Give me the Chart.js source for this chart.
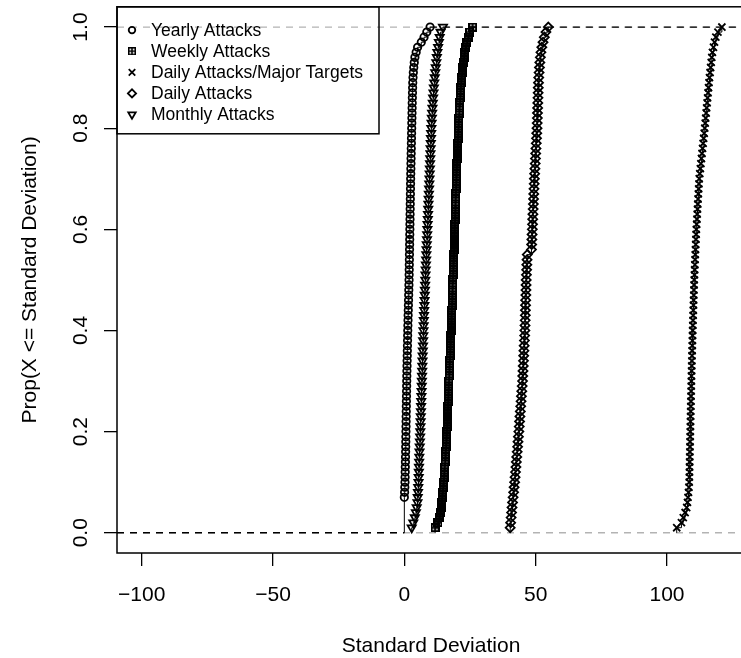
<!DOCTYPE html>
<html>
<head>
<meta charset="utf-8">
<script src="https://cdn.jsdelivr.net/npm/chart.js@4.4.1/dist/chart.umd.min.js"></script>
<style>
  html, body { margin: 0; padding: 0; background: #fff; overflow: hidden; }
  #wrap { width: 760px; height: 658px; }
</style>
</head>
<body>
<div id="wrap"><canvas id="chart" width="760" height="658"></canvas></div>
<script>
// sorted standard deviations for each series
const yearly = [0, 0, 0, 0, 0, 0, 0,
  0.10, 0.18, 0.25, 0.29, 0.33, 0.37, 0.41, 0.45, 0.49, 0.52, 0.55, 0.58, 0.61,
  0.64, 0.67, 0.70, 0.73, 0.76, 0.79, 0.82, 0.85, 0.88, 0.91,
  0.94, 0.98, 1.02, 1.06, 1.10, 1.14, 1.18, 1.22, 1.26, 1.30,
  1.35, 1.40, 1.45, 1.50, 1.55, 1.60, 1.65, 1.70, 1.75, 1.80,
  1.83, 1.86, 1.89, 1.92, 1.95, 1.98, 2.01, 2.04, 2.07, 2.10,
  2.13, 2.16, 2.19, 2.22, 2.25, 2.28, 2.31, 2.34, 2.37, 2.40,
  2.44, 2.48, 2.52, 2.56, 2.60, 2.64, 2.68, 2.72, 2.76, 2.80,
  2.84, 2.88, 2.92, 2.96, 3.00, 3.05, 3.10, 3.15, 3.20, 3.30,
  3.42, 3.58, 3.78, 4.02, 4.50, 5.05, 6.45, 7.50, 8.55, 9.80];

const weekly = [11.70, 12.80, 13.30, 13.70, 14.00, 14.22, 14.42, 14.62, 14.82, 15.00,
  15.13, 15.26, 15.39, 15.52, 15.65, 15.76, 15.87, 15.98, 16.09, 16.20,
  16.28, 16.36, 16.44, 16.52, 16.60, 16.68, 16.76, 16.84, 16.92, 17.00,
  17.08, 17.16, 17.24, 17.32, 17.40, 17.48, 17.56, 17.64, 17.72, 17.80,
  17.87, 17.94, 18.01, 18.08, 18.15, 18.22, 18.29, 18.36, 18.43, 18.50,
  18.57, 18.64, 18.71, 18.78, 18.85, 18.92, 18.99, 19.06, 19.13, 19.20,
  19.26, 19.32, 19.38, 19.44, 19.50, 19.56, 19.62, 19.68, 19.74, 19.80,
  19.88, 19.96, 20.04, 20.12, 20.20, 20.28, 20.36, 20.44, 20.52, 20.60,
  20.70, 20.80, 20.90, 21.00, 21.12, 21.24, 21.36, 21.48, 21.62, 21.80,
  22.00, 22.22, 22.46, 22.72, 23.00, 23.40, 23.85, 24.30, 24.90, 26.00];

const dailyMajor = [103.70, 105.50, 106.20, 106.90, 107.50, 107.80, 108.00, 108.20, 108.35, 108.48,
  108.52, 108.56, 108.60, 108.64, 108.68, 108.72, 108.76, 108.80, 108.84, 108.88,
  108.92, 108.96, 109.00, 109.04, 109.08, 109.12, 109.16, 109.20, 109.24, 109.28,
  109.33, 109.38, 109.43, 109.48, 109.53, 109.58, 109.63, 109.68, 109.73, 109.78,
  109.84, 109.90, 109.96, 110.02, 110.08, 110.14, 110.20, 110.26, 110.32, 110.38,
  110.46, 110.54, 110.62, 110.70, 110.78, 110.86, 110.94, 111.02, 111.10, 111.18,
  111.29, 111.40, 111.51, 111.62, 111.73, 111.84, 111.95, 112.06, 112.17, 112.28,
  112.49, 112.70, 112.91, 113.12, 113.33, 113.54, 113.75, 113.96, 114.17, 114.38,
  114.56, 114.74, 114.92, 115.10, 115.28, 115.46, 115.64, 115.82, 116.00, 116.18,
  116.40, 116.62, 116.84, 117.06, 117.30, 117.70, 118.10, 118.60, 119.40, 120.90];

const daily = [40.30, 40.48, 40.65, 40.82, 41.00, 41.20, 41.40, 41.60, 41.80, 42.00,
  42.16, 42.32, 42.48, 42.64, 42.80, 42.96, 43.12, 43.28, 43.44, 43.60,
  43.74, 43.88, 44.02, 44.16, 44.30, 44.44, 44.58, 44.72, 44.86, 45.00,
  45.09, 45.18, 45.27, 45.36, 45.45, 45.54, 45.63, 45.72, 45.81, 45.90,
  45.95, 46.00, 46.05, 46.10, 46.15, 46.20, 46.25, 46.30, 46.35, 46.40,
  46.48, 46.56, 46.64, 46.72, 46.80, 48.40, 48.48, 48.56, 48.64, 48.72,
  48.80, 48.88, 48.96, 49.04, 49.12, 49.20, 49.28, 49.36, 49.44, 49.52,
  49.62, 49.72, 49.82, 49.92, 50.02, 50.12, 50.22, 50.32, 50.42, 50.52,
  50.58, 50.64, 50.70, 50.76, 50.82, 50.88, 50.94, 51.00, 51.08, 51.16,
  51.30, 51.45, 51.60, 51.78, 52.00, 52.35, 52.80, 53.30, 53.90, 54.80];

const monthly = [2.80, 3.40, 4.00, 4.40, 4.70, 5.00, 5.10, 5.20, 5.30, 5.40,
  5.46, 5.52, 5.58, 5.64, 5.70, 5.78, 5.86, 5.93, 6.01, 6.08,
  6.14, 6.20, 6.26, 6.32, 6.38, 6.44, 6.50, 6.56, 6.62, 6.68,
  6.74, 6.80, 6.86, 6.92, 6.98, 7.04, 7.10, 7.16, 7.22, 7.28,
  7.35, 7.42, 7.49, 7.56, 7.63, 7.70, 7.77, 7.84, 7.91, 7.98,
  8.06, 8.14, 8.22, 8.30, 8.38, 8.46, 8.54, 8.62, 8.70, 8.78,
  8.86, 8.94, 9.02, 9.10, 9.18, 9.26, 9.34, 9.42, 9.50, 9.58,
  9.65, 9.72, 9.79, 9.86, 9.93, 10.00, 10.07, 10.14, 10.21, 10.28,
  10.38, 10.48, 10.58, 10.70, 10.83, 10.96, 11.10, 11.24, 11.40, 11.58,
  11.78, 11.98, 12.18, 12.38, 12.58, 12.86, 13.16, 13.46, 13.80, 14.70];

const seriesNames = ['Yearly Attacks', 'Weekly Attacks', 'Daily Attacks/Major Targets', 'Daily Attacks', 'Monthly Attacks'];
const xTickValues = [-100, -50, 0, 50, 100];
const yTickValues = [0, 0.2, 0.4, 0.6, 0.8, 1.0];
const xMin = -109.4, xMax = 129.7;
const yMin = -0.04, yMax = 1.04;

const FONT = "'Liberation Sans', Arial, sans-serif";

// square with a plus inside (R pch 12)
function boxPlus(size, lw) {
    const c = document.createElement('canvas');
    c.width = size; c.height = size;
    const g = c.getContext('2d');
    const m = lw / 2;
    g.strokeStyle = '#000';
    g.lineWidth = lw;
    g.strokeRect(m, m, size - lw, size - lw);
    g.beginPath();
    g.moveTo(size / 2, m); g.lineTo(size / 2, size - m);
    g.moveTo(m, size / 2); g.lineTo(size - m, size / 2);
    g.stroke();
    return c;
}

// empirical cdf: a starting point at height 0, then one knot per distinct value
function ecdf(values) {
    const n = values.length;
    const pts = [{ x: values[0], y: 0 }];
    for (let i = 0; i < n; i++) {
        if (i < n - 1 && values[i + 1] === values[i]) continue;
        pts.push({ x: values[i], y: (i + 1) / n });
    }
    return pts;
}

const markers = [
    { pointStyle: 'circle', radius: 3.7, rotation: 0, legend: 'circle' },
    { pointStyle: boxPlus(9, 2), radius: 4.5, rotation: 0, legend: boxPlus(8, 1.5) },
    { pointStyle: 'crossRot', radius: 5, rotation: 0, legend: 'crossRot' },
    { pointStyle: 'rectRot', radius: 4.5, rotation: 0, legend: 'rectRot' },
    { pointStyle: 'triangle', radius: 4.7, rotation: 180, legend: 'triangle' }
];

const allSeries = [yearly, weekly, dailyMajor, daily, monthly];

const datasets = allSeries.map((vals, k) => ({
    label: seriesNames[k],
    data: ecdf(vals),
    showLine: true,
    stepped: 'before',
    borderColor: '#000',
    borderWidth: 1,
    pointStyle: markers[k].pointStyle,
    pointRotation: markers[k].rotation,
    pointRadius: ctx => ctx.dataIndex === 0 ? 0 : markers[k].radius,
    pointBorderColor: '#000',
    pointBackgroundColor: 'rgba(0,0,0,0)',
    pointBorderWidth: 1.8
}));

// the first curve's flat tails, drawn dashed
datasets.push({
    label: '_left',
    data: [{ x: xMin, y: 0 }, { x: yearly[0], y: 0 }],
    showLine: true, borderColor: '#000', borderWidth: 1.3, borderDash: [7, 6], pointRadius: 0
});
datasets.push({
    label: '_right',
    data: [{ x: yearly[yearly.length - 1], y: 1 }, { x: xMax, y: 1 }],
    showLine: true, borderColor: '#000', borderWidth: 1.3, borderDash: [7, 6], pointRadius: 0
});

const guideLines = {
    id: 'guideLines',
    beforeDatasetsDraw(chart) {
        const { ctx, chartArea, scales } = chart;
        ctx.save();
        ctx.strokeStyle = '#b3b3b3';
        ctx.lineWidth = 1.3;
        ctx.setLineDash([7, 6]);
        [0, 1].forEach(v => {
            const y = scales.y.getPixelForValue(v);
            ctx.beginPath();
            ctx.moveTo(chartArea.left, y);
            ctx.lineTo(chartArea.right, y);
            ctx.stroke();
        });
        ctx.restore();
    }
};

const legendBox = {
    id: 'legendBox',
    afterDatasetsDraw(chart) {
        const { ctx, chartArea } = chart;
        const left = chartArea.left, top = chartArea.top;
        ctx.save();
        ctx.strokeStyle = '#000';
        ctx.lineWidth = 1.5;
        ctx.strokeRect(left, top, 262, 127);
        ctx.font = '17.5px ' + FONT;
        ctx.textBaseline = 'middle';
        seriesNames.forEach((name, k) => {
            const y = top + 23.3 + k * 21.1;
            ctx.strokeStyle = '#000';
            ctx.fillStyle = 'rgba(0,0,0,0)';
            ctx.lineWidth = 1.8;
            Chart.helpers.drawPoint(ctx, {
                pointStyle: markers[k].legend,
                radius: markers[k].radius - 0.4,
                rotation: markers[k].rotation,
                borderWidth: 1.8
            }, left + 15, y);
            ctx.fillStyle = '#000';
            ctx.fillText(name, left + 34, y + 1);
        });
        ctx.restore();
    }
};

const frame = {
    id: 'frame',
    afterDraw(chart) {
        const { ctx, chartArea } = chart;
        ctx.save();
        ctx.strokeStyle = '#000';
        ctx.lineWidth = 1.5;
        ctx.strokeRect(chartArea.left, chartArea.top, chartArea.right - chartArea.left, chartArea.bottom - chartArea.top);
        ctx.restore();
    }
};

new Chart(document.getElementById('chart'), {
    type: 'scatter',
    data: { datasets: datasets },
    options: {
        responsive: false,
        animation: false,
        events: [],
        layout: { padding: { left: 0, top: 5, right: 15, bottom: 0 } },
        plugins: { legend: { display: false }, tooltip: { enabled: false } },
        scales: {
            x: {
                type: 'linear',
                min: xMin,
                max: xMax,
                afterBuildTicks: s => { s.ticks = xTickValues.map(v => ({ value: v })); },
                afterFit: s => { s.height = 105; s.paddingLeft = 0; s.paddingRight = 0; },
                ticks: {
                    autoSkip: false,
                    maxRotation: 0,
                    padding: 17,
                    color: '#000',
                    font: { family: FONT, size: 21 },
                    callback: v => v < 0 ? '\u2212' + Math.abs(v) : String(v)
                },
                grid: { drawOnChartArea: false, drawTicks: true, tickLength: 13, color: '#000', lineWidth: 1.3 },
                border: { display: false },
                title: {
                    display: true,
                    text: 'Standard Deviation',
                    color: '#000',
                    font: { family: FONT, size: 21, lineHeight: 1.1 },
                    padding: 0
                }
            },
            y: {
                type: 'linear',
                min: yMin,
                max: yMax,
                afterBuildTicks: s => { s.ticks = yTickValues.map(v => ({ value: v })); },
                afterFit: s => { s.width = 117; s.paddingTop = 0; s.paddingBottom = 0; },
                ticks: {
                    autoSkip: false,
                    minRotation: 90,
                    maxRotation: 90,
                    crossAlign: 'center',
                    padding: 8,
                    color: '#000',
                    font: { family: FONT, size: 21 },
                    callback: v => v.toFixed(1)
                },
                grid: { drawOnChartArea: false, drawTicks: true, tickLength: 13, color: '#000', lineWidth: 1.3 },
                border: { display: false },
                title: {
                    display: true,
                    text: 'Prop(X <= Standard Deviation)',
                    color: '#000',
                    font: { family: FONT, size: 21, lineHeight: 1.1 },
                    padding: { top: 19, bottom: 0 }
                }
            }
        }
    },
    plugins: [guideLines, legendBox, frame]
});
</script>
</body>
</html>
